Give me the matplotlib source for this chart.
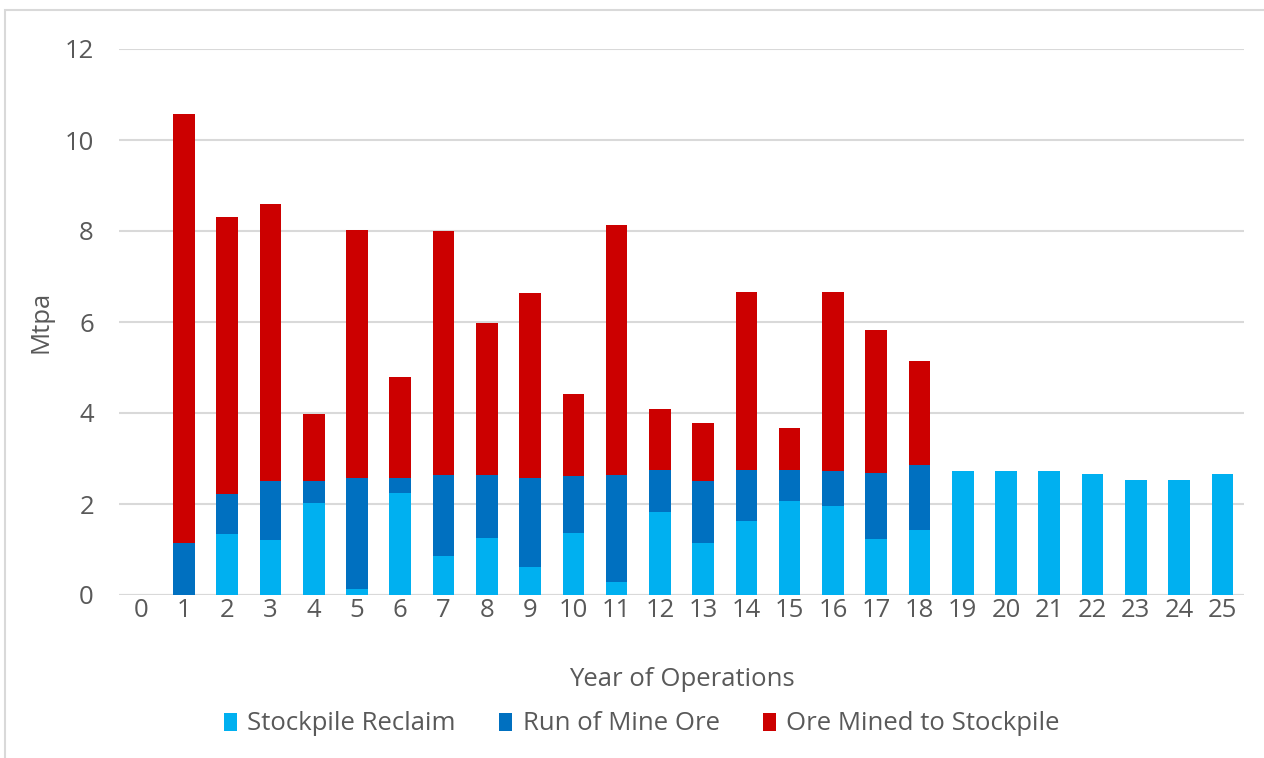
import matplotlib.pyplot as plt
import numpy as np
from matplotlib.patches import Rectangle

# year of operations and tonnage (Mtpa)
years = list(range(0, 26))
stockpile_reclaim = [0, 0, 1.34, 1.21, 2.03, 0.13, 2.25, 0.86, 1.26, 0.61, 1.37, 0.29, 1.82,
                     1.14, 1.62, 2.07, 1.96, 1.23, 1.42, 2.72, 2.72, 2.72, 2.66, 2.52, 2.52, 2.66]
run_of_mine = [0, 1.15, 0.88, 1.29, 0.47, 2.45, 0.33, 1.78, 1.38, 1.97, 1.24, 2.34, 0.93,
               1.36, 1.13, 0.68, 0.76, 1.46, 1.44, 0, 0, 0, 0, 0, 0, 0]
ore_to_stockpile = [0, 9.42, 6.09, 6.09, 1.47, 5.45, 2.21, 5.36, 3.33, 4.05, 1.80, 5.50, 1.33,
                    1.27, 3.91, 0.93, 3.94, 3.13, 2.28, 0, 0, 0, 0, 0, 0, 0]

labels = ['Stockpile Reclaim', 'Run of Mine Ore', 'Ore Mined to Stockpile']
colors = ['#00B0F0', '#0070C0', '#CC0000']
text_color = '#595959'
fs = 18.5

plt.rcParams['font.family'] = ['Open Sans', 'DejaVu Sans']

fig = plt.figure(figsize=(12.64, 7.58), dpi=100)
ax = fig.add_axes([119 / 1264, 163 / 758, 1125 / 1264, 546 / 758])

x = np.array(years)
s1 = np.array(stockpile_reclaim)
s2 = np.array(run_of_mine)
s3 = np.array(ore_to_stockpile)

ax.bar(x, s1, width=0.5, color=colors[0], label=labels[0], zorder=3)
ax.bar(x, s2, width=0.5, bottom=s1, color=colors[1], label=labels[1], zorder=3)
ax.bar(x, s3, width=0.5, bottom=s1 + s2, color=colors[2], label=labels[2], zorder=3)

ax.set_xlim(-0.5, 25.5)
ax.set_ylim(0, 12)
ax.set_yticks(range(0, 13, 2))
ax.set_xticks(years)
ax.grid(axis='y', color='#D9D9D9', linewidth=1.5, zorder=0)
for side in ['top', 'right', 'left', 'bottom']:
    ax.spines[side].set_visible(False)
ax.axhline(0, color='#D9D9D9', linewidth=1.5, zorder=2)
ax.tick_params(axis='both', length=0, labelsize=fs, labelcolor=text_color)
ax.tick_params(axis='y', pad=18)
ax.tick_params(axis='x', pad=2)

ax.set_xlabel('Year of Operations', fontsize=fs, color=text_color, labelpad=31.5)
ax.set_ylabel('Mtpa', fontsize=fs, color=text_color, labelpad=8)

fig.legend(loc='center', bbox_to_anchor=(642 / 1264, 1 - 724 / 758), ncol=3,
           frameon=False, fontsize=fs, labelcolor=text_color,
           handlelength=0.5, handleheight=0.7, handletextpad=0.4, columnspacing=1.7)

# chart border
fig.patches.append(Rectangle((5 / 1264, -0.1), 1.2, 1 - 10 / 758 + 0.1,
                             transform=fig.transFigure, fill=False,
                             edgecolor='#D9D9D9', linewidth=1.5))

fig.savefig('out.png', dpi=100)
